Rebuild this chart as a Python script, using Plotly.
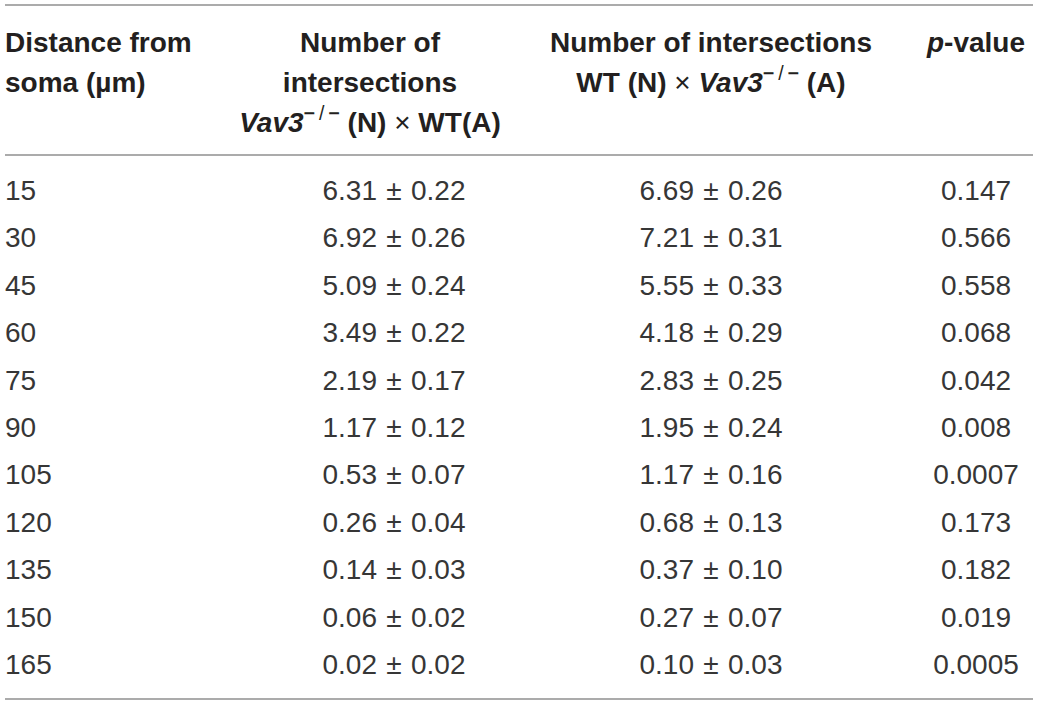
import plotly.graph_objects as go

# table values
distance = [15, 30, 45, 60, 75, 90, 105, 120, 135, 150, 165]
vav3_wt_mean = [6.31, 6.92, 5.09, 3.49, 2.19, 1.17, 0.53, 0.26, 0.14, 0.06, 0.02]
vav3_wt_sem = [0.22, 0.26, 0.24, 0.22, 0.17, 0.12, 0.07, 0.04, 0.03, 0.02, 0.02]
wt_vav3_mean = [6.69, 7.21, 5.55, 4.18, 2.83, 1.95, 1.17, 0.68, 0.37, 0.27, 0.10]
wt_vav3_sem = [0.26, 0.31, 0.33, 0.29, 0.25, 0.24, 0.16, 0.13, 0.10, 0.07, 0.03]
p_values = ["0.147", "0.566", "0.558", "0.068", "0.042", "0.008",
            "0.0007", "0.173", "0.182", "0.019", "0.0005"]

light = "<span style='font-weight:normal'>%s</span>"
times = light % "×"
ko = "<i>Vav3</i><sup>−" + light % "\u2009/\u2009" + "−</sup>"
header_lines = [
    ["Distance from", "soma (µm)"],
    ["Number of", "intersections", f"{ko} (N) {times} WT(A)"],
    ["Number of intersections", f"WT (N) {times} {ko} (A)"],
    ["<i>p</i>-value"],
]

W, H = 1039, 706
ink = "#231f20"
rule = "#8f8f8f"

# column anchors (pixels) and how text hangs off them
body_x = [5, 394, 711, 976]
body_pos = ["middle right", "middle center", "middle center", "middle center"]
head_x = [5, 370, 711, 976]
head_pos = ["middle right", "middle center", "middle center", "middle center"]

# vertical scale in "row" units: row 0 centred at 193 px, 47.4 px per row
row_px, row0_px = 47.4, 193.0
head_first, head_step = (44.6 - row0_px) / row_px, 40 / row_px

rows = list(range(len(distance)))
pm = "\u2004±\u2004"
col_text = [
    [str(d) for d in distance],
    [f"{m:.2f}{pm}{s:.2f}" for m, s in zip(vav3_wt_mean, vav3_wt_sem)],
    [f"{m:.2f}{pm}{s:.2f}" for m, s in zip(wt_vav3_mean, wt_vav3_sem)],
    p_values,
]

fig = go.Figure()

for c, texts in enumerate(col_text):
    fig.add_trace(go.Scatter(
        x=[body_x[c]] * len(texts), y=rows, text=texts, mode="text",
        textposition=body_pos[c], cliponaxis=False, hoverinfo="skip",
        textfont=dict(family="Liberation Sans", size=28, color="#363636"),
    ))

for c, lines in enumerate(header_lines):
    ys = [head_first + i * head_step for i in range(len(lines))]
    fig.add_trace(go.Scatter(
        x=[head_x[c]] * len(lines), y=ys, text=lines, mode="text",
        textposition=head_pos[c], cliponaxis=False, hoverinfo="skip",
        textfont=dict(family="Liberation Sans", size=28, weight="bold", color=ink),
    ))

for ypx in [5, 155, 699]:
    fig.add_shape(type="line", xref="x", yref="paper", x0=5, x1=1033,
                  y0=1 - ypx / H, y1=1 - ypx / H,
                  line=dict(color=rule, width=1.6))

fig.update_layout(
    width=W, height=H,
    margin=dict(l=0, r=0, t=0, b=0),
    paper_bgcolor="white", plot_bgcolor="white",
    showlegend=False,
    xaxis=dict(range=[0, W], visible=False, fixedrange=True),
    yaxis=dict(range=[(H - row0_px) / row_px, -row0_px / row_px],
               visible=False, fixedrange=True),
)

# the page body has an 8px default margin; drop it so the figure fills the window
fig.write_html("out.html", config={"displayModeBar": False},
               post_script="document.body.style.margin='0';")
